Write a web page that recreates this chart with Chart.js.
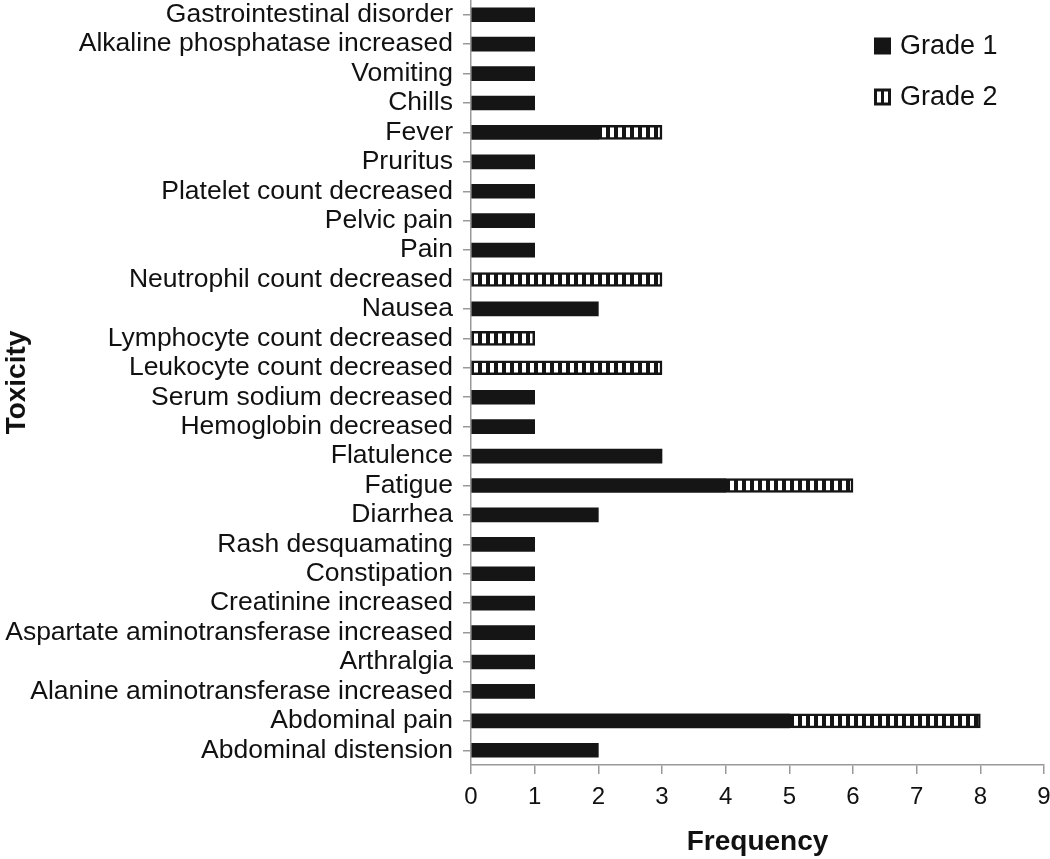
<!DOCTYPE html>
<html>
<head>
<meta charset="utf-8">
<script src="https://cdn.jsdelivr.net/npm/chart.js@4/dist/chart.umd.min.js"></script>
<style>
  html, body { margin: 0; padding: 0; background: #fff; }
  #wrap { width: 1050px; height: 859px; position: relative; }
</style>
</head>
<body>
<div id="wrap"><canvas id="chart"></canvas></div>
<script>
// toxicity categories, top to bottom
const categories = [
  'Gastrointestinal disorder', 'Alkaline phosphatase increased', 'Vomiting', 'Chills',
  'Fever', 'Pruritus', 'Platelet count decreased', 'Pelvic pain', 'Pain',
  'Neutrophil count decreased', 'Nausea', 'Lymphocyte count decreased',
  'Leukocyte count decreased', 'Serum sodium decreased', 'Hemoglobin decreased',
  'Flatulence', 'Fatigue', 'Diarrhea', 'Rash desquamating', 'Constipation',
  'Creatinine increased', 'Aspartate aminotransferase increased', 'Arthralgia',
  'Alanine aminotransferase increased', 'Abdominal pain', 'Abdominal distension'
];
const grade1 = [1, 1, 1, 1, 2, 1, 1, 1, 1, 0, 2, 0, 0, 1, 1, 3, 4, 2, 1, 1, 1, 1, 1, 1, 5, 2];
const grade2 = [0, 0, 0, 0, 1, 0, 0, 0, 0, 3, 0, 1, 3, 0, 0, 0, 2, 0, 0, 0, 0, 0, 0, 0, 3, 0];
const xTicks = [0, 1, 2, 3, 4, 5, 6, 7, 8, 9];

const FONT = 'Liberation Sans, Arial, sans-serif';

// vertical stripe fill for grade 2
function stripePattern() {
  const c = document.createElement('canvas');
  c.width = 8; c.height = 20;
  const g = c.getContext('2d');
  g.fillStyle = '#151515';
  g.fillRect(0, 0, 8, 20);
  g.fillStyle = '#fff';
  g.fillRect(2, 0, 4, 20);
  return g.createPattern(c, 'repeat');
}
const stripes = stripePattern();

// legend at top right
const legendPlugin = {
  id: 'sideLegend',
  afterDraw(chart) {
    const ctx = chart.ctx;
    ctx.save();
    ctx.font = '27px ' + FONT;
    ctx.textBaseline = 'middle';
    const items = [
      { label: 'Grade 1', y: 46, fill: '#151515' },
      { label: 'Grade 2', y: 97, fill: 'stripes' }
    ];
    items.forEach(it => {
      const x = 874, s = 17;
      if (it.fill === 'stripes') {
        ctx.fillStyle = '#151515';
        ctx.fillRect(x, it.y - s / 2, s, s);
        ctx.fillStyle = '#fff';
        ctx.fillRect(x + 3, it.y - s / 2 + 3, 4, s - 6);
        ctx.fillRect(x + 10, it.y - s / 2 + 3, 4, s - 6);
      } else {
        ctx.fillStyle = it.fill;
        ctx.fillRect(x, it.y - s / 2, s, s);
      }
      ctx.fillStyle = '#111';
      ctx.fillText(it.label, x + 26, it.y + 1);
    });
    ctx.restore();
  }
};

new Chart(document.getElementById('chart'), {
  type: 'bar',
  data: {
    labels: categories,
    datasets: [
      {
        label: 'Grade 1',
        data: grade1,
        backgroundColor: '#151515',
        borderWidth: 0,
        barThickness: 14
      },
      {
        label: 'Grade 2',
        data: grade2,
        backgroundColor: stripes,
        borderColor: '#151515',
        borderWidth: 2.5,
        borderSkipped: false,
        barThickness: 14
      }
    ]
  },
  options: {
    indexAxis: 'y',
    responsive: true,
    maintainAspectRatio: false,
    animation: false,
    layout: { padding: { top: 0, right: 6, left: 0, bottom: 0 } },
    plugins: {
      legend: { display: false },
      tooltip: { enabled: false }
    },
    scales: {
      x: {
        stacked: true,
        min: 0,
        max: 9,
        afterBuildTicks: axis => { axis.ticks = xTicks.map(v => ({ value: v })); },
        grid: { display: true, drawOnChartArea: false, drawTicks: true, tickLength: 9, color: '#999', lineWidth: 1.5 },
        border: { color: '#999', width: 1.5 },
        ticks: { color: '#111', font: { family: FONT, size: 24 }, padding: 9 },
        title: { display: true, text: 'Frequency', color: '#111', font: { family: FONT, size: 28, weight: 'bold' }, padding: { top: 0, bottom: 0 } },
        afterFit: scale => { scale.height = 94; scale.paddingLeft = 0; scale.paddingRight = 0; }
      },
      y: {
        stacked: true,
        grid: { display: true, drawOnChartArea: false, drawTicks: true, tickLength: 8, color: '#999', lineWidth: 1.5, offset: false },
        border: { color: '#999', width: 1.5 },
        ticks: { color: '#111', font: { family: FONT, size: 26.5 }, padding: 10, autoSkip: false },
        title: { display: true, text: 'Toxicity', color: '#111', font: { family: FONT, size: 28, weight: 'bold' }, padding: 0 },
        afterFit: scale => { scale.width = 471; scale.paddingTop = 0; scale.paddingBottom = 0; }
      }
    }
  },
  plugins: [legendPlugin]
});
</script>
</body>
</html>
